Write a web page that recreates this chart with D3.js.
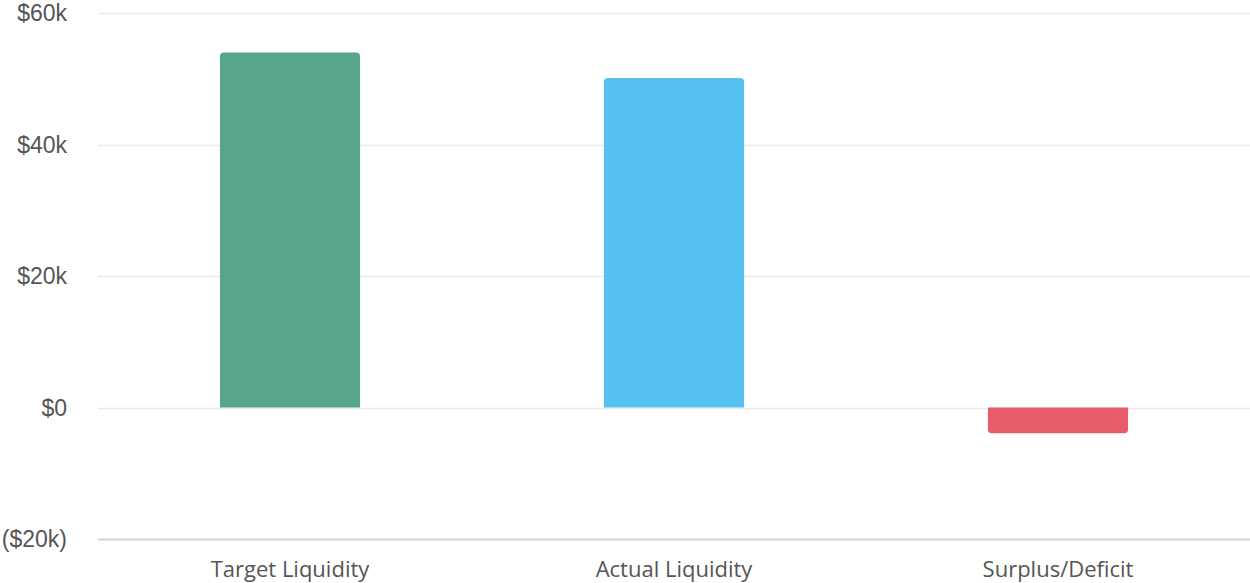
<!DOCTYPE html>
<html>
<head>
<meta charset="utf-8">
<script src="https://cdn.jsdelivr.net/npm/d3@7"></script>
<style>
  body { margin: 0; background: #fff; }
  svg { display: block; }
</style>
</head>
<body>
<svg width="1250" height="583"></svg>
<script>
// chart data
var categories = ["Target Liquidity", "Actual Liquidity", "Surplus/Deficit"];
var values = [54000, 50100, -3900];
var barColors = ["#57A68C", "#55C1F1", "#E85C69"];
var yTicks = [-20000, 0, 20000, 40000, 60000];

var svg = d3.select("svg"),
  width = +svg.attr("width"),
  height = +svg.attr("height");

var plotLeft = 98, plotRight = 1250, plotTop = 13, plotBottom = 539;

var x = d3.scaleBand()
  .domain(categories)
  .range([plotLeft, plotRight])
  .paddingInner(0.635)
  .paddingOuter(0.3175);

var y = d3.scaleLinear()
  .domain([-20000, 60000])
  .range([plotBottom, plotTop]);

function fmt(v) {
  if (v === 0) return "$0";
  var s = "$" + Math.abs(v / 1000) + "k";
  return v < 0 ? "(" + s + ")" : s;
}

// grid lines
svg.append("g")
  .selectAll("line")
  .data(yTicks)
  .enter().append("line")
  .attr("x1", plotLeft)
  .attr("x2", plotRight)
  .attr("y1", function(d) { return Math.round(y(d)) + 0.5; })
  .attr("y2", function(d) { return Math.round(y(d)) + 0.5; })
  .attr("stroke", function(d) { return d === -20000 ? "#D8D3CB" : "#EEEAE6"; })
  .attr("stroke-width", function(d) { return d === -20000 ? 2 : 1.5; });

// y tick labels
svg.append("g")
  .selectAll("text")
  .data(yTicks)
  .enter().append("text")
  .attr("x", 67)
  .attr("y", function(d) { return y(d); })
  .attr("dy", "0.35em")
  .attr("text-anchor", "end")
  .style("font-family", "'Liberation Sans', Arial, sans-serif")
  .style("font-size", "23px")
  .style("fill", "#555")
  .text(fmt);

// bars with rounded outer end
var r = 4;
function barPath(d, i) {
  var x0 = x(categories[i]), w = x.bandwidth();
  var y0 = y(0), y1 = y(d);
  var s = d >= 0 ? 1 : -1;
  return "M" + x0 + "," + y0 +
    "V" + (y1 + s * r) +
    "Q" + x0 + "," + y1 + " " + (x0 + r) + "," + y1 +
    "H" + (x0 + w - r) +
    "Q" + (x0 + w) + "," + y1 + " " + (x0 + w) + "," + (y1 + s * r) +
    "V" + y0 + "Z";
}

svg.append("g")
  .selectAll("path")
  .data(values)
  .enter().append("path")
  .attr("d", barPath)
  .attr("fill", function(d, i) { return barColors[i]; });

// category labels
svg.append("g")
  .selectAll("text")
  .data(categories)
  .enter().append("text")
  .attr("x", function(d) { return x(d) + x.bandwidth() / 2; })
  .attr("y", 577)
  .attr("text-anchor", "middle")
  .style("font-family", "'Open Sans', sans-serif")
  .style("font-size", "22px")
  .style("fill", "#555")
  .text(function(d) { return d; });
</script>
</body>
</html>
